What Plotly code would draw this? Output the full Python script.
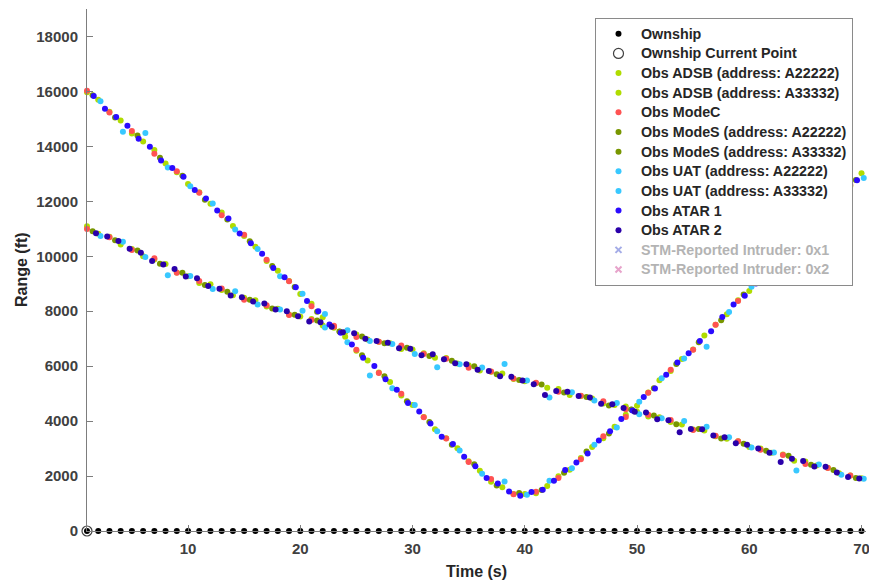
import numpy as np
import plotly.graph_objects as go

# ---- data ----
ownship_t = np.arange(1, 71)
ownship_r = [0] * 70

t_adsb = np.arange(1, 71)
adsb_a22222 = [15970, 15700, 15260, 14940, 14470, 14180, 13870, 13380, 13060, 12630,
               12330, 11910, 11590, 11100, 10740, 10350, 9830, 9470, 9100, 8630,
               8270, 7780, 7430, 7070, 6560, 6210, 5770, 5420, 4930, 4590,
               4150, 3700, 3380, 3010, 2540, 2190, 1790, 1590, 1350, 1350,
               1370, 1640, 1990, 2230, 2660, 3060, 3380, 3790, 4230, 4560,
               5040, 5490, 5820, 6260, 6610, 7120, 7510, 7890, 8400, 8740,
               9180, 9630, 9980, 10490, 10870, 11260, 11740, 12090, 12560, 13020]
adsb_a33332 = [11090, 10820, 10710, 10430, 10260, 10000, 9880, 9720, 9410, 9270,
               9030, 8980, 8770, 8580, 8490, 8400, 8170, 8090, 7880, 7810,
               7720, 7480, 7400, 7230, 7150, 6970, 6890, 6830, 6620, 6610,
               6470, 6310, 6300, 6100, 6030, 5840, 5800, 5730, 5530, 5450,
               5380, 5210, 5170, 4950, 4910, 4820, 4640, 4590, 4530, 4340,
               4170, 4140, 3970, 3880, 3690, 3660, 3450, 3360, 3270, 3060,
               3000, 2850, 2780, 2560, 2530, 2380, 2300, 2100, 2020, 1920]

t_modec = np.arange(1, 70, 2)
modec_trk1 = [10990, 10690, 10230, 9930, 9400, 9100, 8830, 8420, 8220, 7860,
              7680, 7430, 7060, 6890, 6750, 6440, 6270, 5940, 5810, 5550,
              5400, 5070, 4920, 4720, 4430, 4230, 4040, 3680, 3470, 3270,
              2960, 2770, 2440, 2290, 2020]
modec_trk2 = [16020, 15230, 14560, 13730, 13090, 12310, 11490, 10780, 9870, 9090,
              8180, 7470, 6600, 5750, 5000, 4140, 3370, 2510, 1890, 1340,
              1430, 1930, 2610, 3450, 4150, 5030, 5870, 6600, 7510, 8370,
              9160, 10070, 10820, 11700, 12600]

t_modes = np.arange(1.5, 70, 2)
modes_a22222 = [15860, 15050, 14400, 13590, 12930, 12060, 11340, 10550, 9650, 8880,
                7980, 7250, 6400, 5630, 4720, 3970, 3140, 2430, 1660, 1380,
                1490, 2120, 2890, 3550, 4420, 5200, 6080, 6870, 7670, 8610,
                9360, 10250, 11120, 11900, 12780]
modes_a33332 = [10910, 10580, 10210, 9730, 9400, 8950, 8710, 8420, 8100, 7870,
                7660, 7260, 7080, 6830, 6670, 6370, 6200, 6000, 5710, 5500,
                5330, 5040, 4880, 4570, 4410, 4200, 3890, 3710, 3370, 3180,
                2920, 2740, 2410, 2220, 1930]

t_uat = np.arange(2.2, 71, 2)
uat_a22222 = [15640, 14530, 14490, 13230, 12550, 11920, 10970, 10260, 9270, 8640,
              7900, 6870, 5660, 5200, 4590, 3630, 2930, 2080, 1800, 1320,
              1830, 2280, 3140, 3770, 4700, 5560, 6280, 6710, 7970, 8890,
              9780, 10460, 11390, 12120, 12850]
uat_a33332 = [10740, 10530, 9970, 9310, 9280, 8810, 8730, 8240, 8060, 8020,
              7410, 7310, 6920, 6810, 6440, 5960, 6070, 5950, 6080, 5480,
              4860, 5050, 4750, 4660, 4250, 4100, 4000, 3790, 3410, 3040,
              2860, 2200, 2420, 2050, 1900]

t_atar1 = np.arange(1.6, 70, 1)
atar1 = [15830, 15370, 15070, 14750, 14280, 13990, 13490, 13210, 12890, 12410,
         12100, 11670, 11370, 10830, 10470, 10090, 9570, 9240, 8870, 8370,
         8000, 7520, 7220, 6790, 6310, 6010, 5520, 5140, 4660, 4350,
         3910, 3430, 3170, 2700, 2360, 1930, 1730, 1440, 1280, 1420,
         1500, 1830, 2220, 2490, 2820, 3290, 3630, 4080, 4390, 4880,
         5190, 5690, 6130, 6470, 6920, 7270, 7790, 8240, 8560, 9010,
         9480, 9810, 10290, 10750, 11060, 11560, 11940, 12410, 12770]

t_atar2 = np.arange(1.8, 70, 1)
atar2 = [10840, 10720, 10560, 10270, 10130, 9830, 9700, 9540, 9260, 9200,
         8920, 8820, 8570, 8510, 8350, 8280, 8060, 8000, 7820, 7630,
         7600, 7430, 7230, 7200, 7000, 6920, 6850, 6650, 6630, 6400,
         6430, 6250, 6110, 6070, 5870, 5820, 5630, 5610, 5480, 5340,
         4950, 5100, 5070, 4910, 4860, 4630, 4610, 4480, 4340, 4310,
         4070, 4030, 3590, 3710, 3700, 3480, 3410, 3190, 3140, 3000,
         2850, 2510, 2630, 2550, 2350, 2340, 2130, 1970, 1910]

x_ticks = [10, 20, 30, 40, 50, 60, 70]
y_ticks = [0, 2000, 4000, 6000, 8000, 10000, 12000, 14000, 16000, 18000]

# ---- styles ----
C_ADSB = "#b0dc00"
C_MODEC = "#ff5252"
C_MODES = "#789600"
C_UAT = "#38c8ff"
C_ATAR1 = "#2b0bff"
C_ATAR2 = "#2a00aa"
MS = 6

FONT = "Liberation Sans, Arial, Helvetica, sans-serif"


def lbl(text, color=None):
    style = "font-size:14.3px"
    if color:
        style += ";color:" + color
    return "<span style='" + style + "'>" + text + "</span>"


fig = go.Figure()


def pts(x, y, name, color, size=MS, symbol="circle", **kw):
    fig.add_trace(go.Scatter(
        x=x, y=y, name=lbl(name), mode="markers", legendgroup=name,
        marker=dict(color=color, size=size, symbol=symbol, line=dict(width=0)),
        cliponaxis=False, **kw))


pts(ownship_t, ownship_r, "Ownship", "#000000", size=6)
fig.add_trace(go.Scatter(
    x=[ownship_t[0]], y=[ownship_r[0]], name=lbl("Ownship Current Point"), mode="markers",
    legendgroup="cur",
    marker=dict(symbol="circle-open", size=10, color="#404040", line=dict(width=1.2)),
    cliponaxis=False))
pts(t_adsb, adsb_a22222, "Obs ADSB (address: A22222)", C_ADSB)
pts(t_adsb, adsb_a33332, "Obs ADSB (address: A33332)", C_ADSB)
pts(np.concatenate([t_modec, t_modec]), modec_trk1 + modec_trk2, "Obs ModeC", C_MODEC)
pts(t_modes, modes_a22222, "Obs ModeS (address: A22222)", C_MODES)
pts(t_modes, modes_a33332, "Obs ModeS (address: A33332)", C_MODES)
pts(t_uat, uat_a22222, "Obs UAT (address: A22222)", C_UAT)
pts(t_uat, uat_a33332, "Obs UAT (address: A33332)", C_UAT)
pts(t_atar1, atar1, "Obs ATAR 1", C_ATAR1)
pts(t_atar2, atar2, "Obs ATAR 2", C_ATAR2)
fig.add_trace(go.Scatter(
    x=[None], y=[None], mode="markers", visible="legendonly", legendgroup="stm1",
    name=lbl("STM-Reported Intruder: 0x1", "#6a6a6a"),
    marker=dict(symbol="x-thin", size=6, color="#4a5ad0", line=dict(width=2, color="#4a5ad0"))))
fig.add_trace(go.Scatter(
    x=[None], y=[None], mode="markers", visible="legendonly", legendgroup="stm2",
    name=lbl("STM-Reported Intruder: 0x2", "#6a6a6a"),
    marker=dict(symbol="x-thin", size=6, color="#d04a98", line=dict(width=2, color="#d04a98"))))

axis_common = dict(
    showline=True, linecolor="#7d7d7d", linewidth=1,
    ticks="inside", ticklen=6, tickcolor="#7d7d7d", tickwidth=1,
    showgrid=False, zeroline=False, mirror=False, automargin=False,
    ticklabeloverflow="allow",
    tickfont=dict(family=FONT, size=15, color="#404040", weight="bold"),
)

fig.update_layout(
    width=869, height=580,
    margin=dict(l=87, r=3, t=9, b=49),
    plot_bgcolor="white", paper_bgcolor="white",
    showlegend=True,
    legend=dict(
        x=0.9833, y=0.9828, xanchor="right", yanchor="top",
        bgcolor="white", bordercolor="#8a8a8a", borderwidth=1,
        font=dict(family=FONT, size=12.8, color="#262626", weight="bold"),
        tracegroupgap=0, itemwidth=35, itemclick=False, itemdoubleclick=False,
    ),
    xaxis=dict(range=[1, 70.4], tickvals=x_ticks, tickformat="d", ticklabelstandoff=4,
               title=dict(text="Time (s)", standoff=9,
                          font=dict(family=FONT, size=16, color="#262626", weight="bold")),
               **axis_common),
    yaxis=dict(range=[0, 19000], tickvals=y_ticks, tickformat="d", ticklabelstandoff=5,
               title=dict(text=""),
               **axis_common),
    annotations=[dict(
        text="Range (ft)", textangle=-90, xref="paper", yref="paper",
        x=(21 - 87) / 779, y=0.5, xanchor="center", yanchor="middle", showarrow=False,
        font=dict(family=FONT, size=16, color="#262626", weight="bold"))],
)

fig.write_html("out.html", config={"displayModeBar": False},
               post_script="document.body.style.margin='0';")
